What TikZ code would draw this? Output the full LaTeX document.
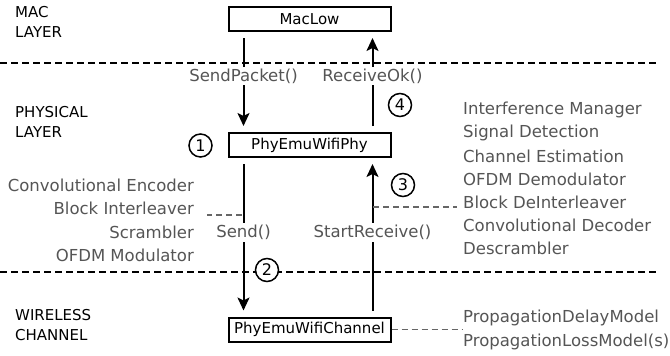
\documentclass[tikz,border=0pt]{standalone}
\usepackage{fontspec}
\setmainfont{DejaVu Sans}
\usetikzlibrary{arrows.meta}
\definecolor{txtgray}{HTML}{555555}
\definecolor{dashgray}{HTML}{666666}
\begin{document}
\begin{tikzpicture}[x=1pt,y=-1pt,
  every node/.style={inner sep=1pt},
  layerlbl/.style={font=\fontsize{15}{20}\selectfont, align=left, anchor=north west, inner sep=0pt},
  block/.style={draw, line width=2pt, minimum width=162pt, minimum height=24pt, font=\fontsize{15}{16}\selectfont, inner sep=0pt},
  callarrow/.style={line width=2pt, -{Stealth[length=13pt,width=12pt,inset=3pt]}, shorten >=6pt, shorten <=6pt},
  calllbl/.style={fill=white, text=txtgray, font=\fontsize{16.5}{20}\selectfont, inner sep=2pt},
  layersep/.style={line width=1.8pt, dash pattern=on 6.5pt off 4.5pt},
  linkdash/.style={dashgray, line width=1.6pt, dash pattern=on 6pt off 4pt},
  stepnum/.style={circle, draw, line width=1.5pt, fill=white, minimum size=23pt, inner sep=0pt, font=\fontsize{16}{16}\selectfont},
  desc/.style={text=txtgray, font=\fontsize{16.5}{20}\selectfont}
]
\useasboundingbox (0,0) rectangle (670,356);

% layer separators
\draw[layersep] (0,63) -- (658,63);
\draw[layersep] (0,272) -- (658,272);

% layer names
\node[layerlbl] (macname) at (15,6) {MAC\\LAYER};
\node[layerlbl] (phyname) at (15,106) {PHYSICAL\\LAYER};
\node[layerlbl] (chname) at (15,309) {WIRELESS\\CHANNEL};

% blocks
\node[block] (maclow) at (309.5,19) {MacLow};
\node[block] (phy) at (309.5,145) {PhyEmuWifiPhy};
\node[block] (chan) at (309.5,329.5) {PhyEmuWifiChannel};

% transmit path
\draw[callarrow] ([xshift=-66pt]maclow.south) -- node[calllbl, pos=0.44] (sendpkt) {SendPacket()} ([xshift=-66pt]phy.north);
\draw[callarrow] ([xshift=-66pt]phy.south) -- node[calllbl, pos=0.47] (send) {Send()} ([xshift=-66pt]chan.north);

% receive path
\draw[callarrow] ([xshift=63pt]chan.north) -- node[calllbl, pos=0.53] (startrx) {StartReceive()} ([xshift=63pt]phy.south);
\draw[callarrow] ([xshift=63pt]phy.north) -- node[calllbl, pos=0.56] (rxok) {ReceiveOk()} ([xshift=63pt]maclow.south);

% step numbers
\node[stepnum] (s1) at (200.5,145.5) {1};
\node[stepnum] (s2) at (267,270) {2};
\node[stepnum] (s3) at (403,185) {3};
\node[stepnum] (s4) at (400,105) {4};

% transmitter chain
\node[desc, anchor=east] (tx1) at (195,185) {Convolutional Encoder};
\node[desc, anchor=east] (tx2) at (195,208.5) {Block Interleaver};
\node[desc, anchor=east] (tx3) at (195,232) {Scrambler};
\node[desc, anchor=east] (tx4) at (195,255) {OFDM Modulator};

% receiver chain
\node[desc, anchor=west] (rx1) at (462,110) {Interference Manager};
\node[desc, anchor=west] (rx2) at (462,133) {Signal Detection};
\node[desc, anchor=west] (rx3) at (462,156) {Channel Estimation};
\node[desc, anchor=west] (rx4) at (462,179) {OFDM Demodulator};
\node[desc, anchor=west] (rx5) at (462,202.5) {Block DeInterleaver};
\node[desc, anchor=west] (rx6) at (462,225.5) {Convolutional Decoder};
\node[desc, anchor=west] (rx7) at (462,248.5) {Descrambler};

% channel models
\node[desc, anchor=west] (pm1) at (462,318) {PropagationDelayModel};
\node[desc, anchor=west] (pm2) at (462,342) {PropagationLossModel(s)};

% links to the component lists
\coordinate (txtap) at (242,215);
\coordinate (rxtap) at (373,207);
\draw[linkdash] (txtap) -- (207,215);
\draw[linkdash] (rxtap) -- (457,207);
\draw[linkdash] (chan.east) -- (pm1.west |- chan.east);
\end{tikzpicture}
\end{document}
